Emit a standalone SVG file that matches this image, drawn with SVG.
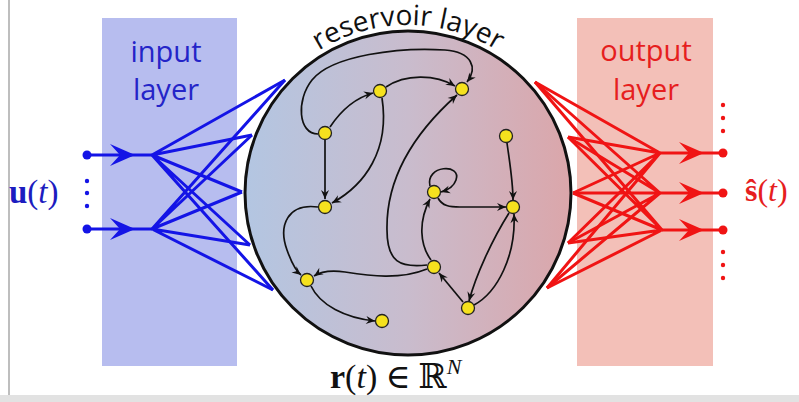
<svg xmlns="http://www.w3.org/2000/svg" width="799" height="402" viewBox="0 0 799 402">
<style>
.lbl{font-family:"Open Sans","Liberation Sans",sans-serif;font-size:29px;text-anchor:middle}
.math{font-family:"Liberation Serif","DejaVu Serif",serif}
.blue{stroke:#1414e6;stroke-width:3;fill:none}
.red{stroke:#f01414;stroke-width:3;fill:none}
.edge{stroke:#111;stroke-width:1.7;fill:none;marker-end:url(#ah)}
.node{fill:#f5e11e;stroke:#222;stroke-width:1.3}
</style>
<defs>
<linearGradient id="res" x1="0" y1="0" x2="1" y2="0">
<stop offset="0" stop-color="#b3c6e2"/>
<stop offset="0.5" stop-color="#c9bccd"/>
<stop offset="1" stop-color="#dba6aa"/>
</linearGradient>
<marker id="ah" markerUnits="userSpaceOnUse" viewBox="-10 -5 11 10" refX="0" refY="0" markerWidth="11" markerHeight="10" orient="auto" overflow="visible">
<path d="M0,0 L-9,-4 L-6,0 L-9,4 Z" fill="#111"/>
</marker>
<marker id="bah" markerUnits="userSpaceOnUse" viewBox="-26 -12 27 24" refX="0" refY="0" markerWidth="27" markerHeight="24" orient="auto" overflow="visible">
<path d="M0,0 L-25,-11 L-15,0 L-25,11 Z" fill="#1414e6"/>
</marker>
<marker id="rah" markerUnits="userSpaceOnUse" viewBox="-26 -12 27 24" refX="0" refY="0" markerWidth="27" markerHeight="24" orient="auto" overflow="visible">
<path d="M0,0 L-25,-11 L-15,0 L-25,11 Z" fill="#f01414"/>
</marker>
<path id="arc" d="M240,193 A168,168 0 0 1 576,193"/>
</defs>
<rect x="0" y="0" width="799" height="402" fill="#ffffff"/>
<line x1="9" y1="0" x2="9" y2="395" stroke="#a8a8a8" stroke-width="1.5"/>
<rect x="0" y="395" width="799" height="7" fill="#e2e2e2"/>

<g id="input-layer">
<rect x="102" y="18" width="135" height="348" fill="#b7bdef"/>
<text class="lbl" x="166" y="62" fill="#2424c8">input</text>
<text class="lbl" x="166" y="100" fill="#2424c8">layer</text>
</g>
<g id="output-layer">
<rect x="577" y="18" width="136" height="348" fill="#f3c0b8"/>
<text class="lbl" x="646" y="61" fill="#e61e1e">output</text>
<text class="lbl" x="646" y="100" fill="#e61e1e">layer</text>
</g>

<g id="connectors-input">
<path class="blue" d="M87,155 L135,155 L152,155" marker-mid="url(#bah)"/>
<path class="blue" d="M87,229 L135,229 L152,229" marker-mid="url(#bah)"/>
<path class="blue" d="M152,155 L285,80 M152,155 L252,135 M152,155 L242,192 M152,155 L250,245 M152,155 L273,290"/>
<path class="blue" d="M152,229 L285,80 M152,229 L252,135 M152,229 L242,192 M152,229 L250,245 M152,229 L273,290"/>
<circle cx="87" cy="155" r="4.5" fill="#1414e6"/>
<circle cx="87" cy="229" r="4.5" fill="#1414e6"/>
<circle cx="87" cy="181" r="2.2" fill="#1414e6"/>
<circle cx="87" cy="193" r="2.2" fill="#1414e6"/>
<circle cx="87" cy="206" r="2.2" fill="#1414e6"/>
</g>

<g id="reservoir">
<ellipse cx="408" cy="193" rx="163" ry="162" fill="url(#res)" stroke="#111" stroke-width="3"/>
<text font-family="Open Sans, Liberation Sans, sans-serif" font-size="28" fill="#111"><textPath href="#arc" startOffset="50%" text-anchor="middle">reservoir layer</textPath></text>
</g>

<g id="connectors-output">
<path class="red" d="M535,82 L660,153 M568,137 L660,153 M573,193 L660,153 M568,243 L660,153 M547,288 L660,153"/>
<path class="red" d="M535,82 L660,193 M568,137 L660,193 M573,193 L660,193 M568,243 L660,193 M547,288 L660,193"/>
<path class="red" d="M535,82 L662,230 M568,137 L662,230 M573,193 L662,230 M568,243 L662,230 M547,288 L662,230"/>
<path class="red" d="M660,153 L704,153 L723,153" marker-mid="url(#rah)"/>
<path class="red" d="M660,193 L704,193 L723,193" marker-mid="url(#rah)"/>
<path class="red" d="M662,230 L704,230 L723,230" marker-mid="url(#rah)"/>
<circle cx="723" cy="153" r="4.5" fill="#f01414"/>
<circle cx="723" cy="193" r="4.5" fill="#f01414"/>
<circle cx="723" cy="230" r="4.5" fill="#f01414"/>
<circle cx="723" cy="105" r="2.2" fill="#f01414"/>
<circle cx="723" cy="118" r="2.2" fill="#f01414"/>
<circle cx="723" cy="131" r="2.2" fill="#f01414"/>
<circle cx="723" cy="252" r="2.2" fill="#f01414"/>
<circle cx="723" cy="265" r="2.2" fill="#f01414"/>
<circle cx="723" cy="278" r="2.2" fill="#f01414"/>
</g>

<g id="edges">
<path class="edge" d="M330,127 C340,112 355,98 373,93"/>
<path class="edge" d="M386,87 C405,74 435,74 455,86"/>
<path class="edge" d="M318,134 C298,134 296,100 312,80 C332,55 400,47 445,50 C472,52 478,68 467,82"/>
<path class="edge" d="M325,140 L325,199"/>
<path class="edge" d="M382,98 C390,150 365,185 332,203"/>
<path class="edge" d="M318,207 C288,203 278,225 287,250 C292,264 296,271 301,275"/>
<path class="edge" d="M311,286 C320,305 345,318 375,321"/>
<path class="edge" d="M427,269 C400,280 370,276 345,272 C330,270 320,272 314,276"/>
<path class="edge" d="M427,265 C400,268 387,262 387,230 C386,180 412,135 457,95"/>
<path class="edge" d="M431,260 C420,245 418,222 430,199"/>
<path class="edge" d="M430,186 C425,165 462,163 456,180 C454,186 448,190 441,192"/>
<path class="edge" d="M438,198 C442,206 450,207 460,207 L506,207"/>
<path class="edge" d="M507,143 C510,165 513,182 513,200"/>
<path class="edge" d="M463,302 L439,273"/>
<path class="edge" d="M509,213 C492,240 476,275 469,301"/>
<path class="edge" d="M474,305 C498,292 516,255 514,214"/>
</g>

<g id="node-A"><circle class="node" cx="380" cy="91" r="6.5"/></g>
<g id="node-B"><circle class="node" cx="462" cy="89" r="6.5"/></g>
<g id="node-C"><circle class="node" cx="325" cy="133" r="6.5"/></g>
<g id="node-D"><circle class="node" cx="506" cy="136" r="6.5"/></g>
<g id="node-E"><circle class="node" cx="434" cy="192" r="6.5"/></g>
<g id="node-F"><circle class="node" cx="513" cy="207" r="6.5"/></g>
<g id="node-G"><circle class="node" cx="325" cy="207" r="6.5"/></g>
<g id="node-H"><circle class="node" cx="434" cy="267" r="6.5"/></g>
<g id="node-I"><circle class="node" cx="307" cy="280" r="6.5"/></g>
<g id="node-J"><circle class="node" cx="468" cy="308" r="6.5"/></g>
<g id="node-K"><circle class="node" cx="382" cy="321" r="6.5"/></g>

<g id="labels">
<text class="math" x="9" y="203" font-size="33" fill="#1c1cc0"><tspan font-weight="bold">u</tspan>(<tspan font-style="italic">t</tspan>)</text>
<text class="math" x="745" y="201" font-size="32" fill="#e61e1e"><tspan font-weight="bold">ŝ</tspan>(<tspan font-style="italic">t</tspan>)</text>
<text class="math" x="330" y="388" font-size="34" fill="#111"><tspan font-weight="bold">r</tspan>(<tspan font-style="italic">t</tspan>)<tspan dx="8">∈</tspan><tspan dx="8">ℝ</tspan><tspan font-style="italic" font-size="22" dy="-14">N</tspan></text>
</g>
</svg>
